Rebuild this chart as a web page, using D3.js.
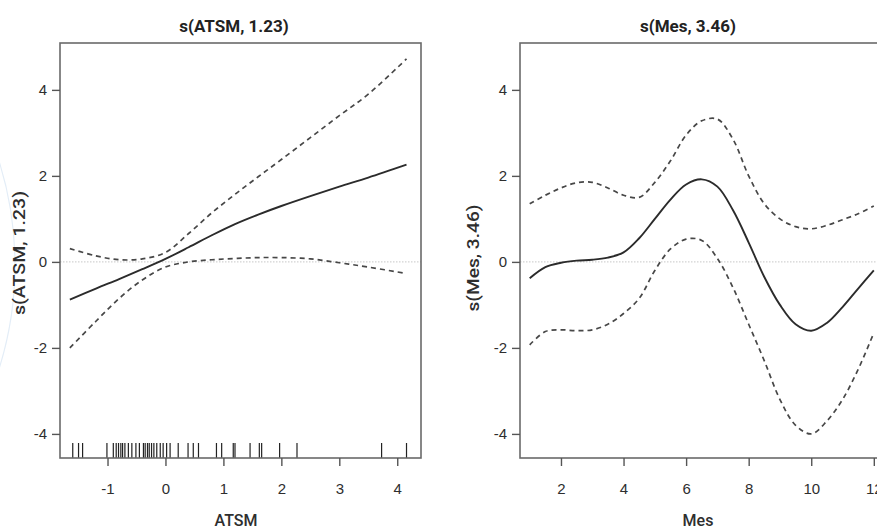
<!DOCTYPE html>
<html>
<head>
<meta charset="utf-8">
<script src="https://cdn.jsdelivr.net/npm/d3@7"></script>
<style>
  body { margin: 0; background: #fff; }
  svg { display: block; font-family: Roboto, "Liberation Sans", sans-serif; }
  .tick text { font-size: 15px; fill: #2e2e2e; font-weight: 500; }
  .tick line { stroke: #555; stroke-width: 1.4; }
</style>
</head>
<body>
<div id="chart"></div>
<script>
// Panel 1: s(ATSM, 1.23)
var atsmX     = [-1.65, -1.2, -0.8, -0.4, 0, 0.4, 0.8, 1.2, 1.6, 2.0, 2.5, 3.0, 3.5, 4.16];
var atsmFit   = [-0.88, -0.62, -0.40, -0.17, 0.07, 0.34, 0.62, 0.88, 1.10, 1.30, 1.53, 1.75, 1.96, 2.26];
var atsmUpper = [0.31, 0.14, 0.05, 0.07, 0.22, 0.66, 1.14, 1.57, 1.98, 2.38, 2.89, 3.40, 3.90, 4.72];
var atsmLower = [-2.0, -1.38, -0.85, -0.42, -0.12, 0.0, 0.05, 0.08, 0.10, 0.10, 0.07, -0.02, -0.12, -0.27];
var atsmRug   = [-1.60, -1.50, -1.43, -1.01, -0.90, -0.85, -0.81, -0.77, -0.74, -0.70, -0.64, -0.58,
                 -0.51, -0.45, -0.38, -0.35, -0.31, -0.28, -0.24, -0.20, -0.15, -0.09, -0.04, 0.02,
                 0.08, 0.22, 0.39, 0.48, 0.57, 0.88, 0.97, 1.17, 1.20, 1.46, 1.62, 1.66, 1.97, 2.27,
                 3.73, 4.16];
var atsmTicks = [-1, 0, 1, 2, 3, 4];

// Panel 2: s(Mes, 3.46)
var mesX     = [1, 1.5, 2, 2.5, 3, 3.5, 4, 4.5, 5, 5.5, 6, 6.5, 7, 7.5, 8, 8.5, 9, 9.5, 10, 10.5, 11, 11.5, 12];
var mesFit   = [-0.38, -0.12, -0.02, 0.03, 0.05, 0.10, 0.22, 0.55, 1.0, 1.45, 1.80, 1.92, 1.75, 1.20, 0.45,
                -0.35, -1.0, -1.45, -1.60, -1.42, -1.05, -0.62, -0.20];
var mesUpper = [1.35, 1.55, 1.72, 1.84, 1.85, 1.72, 1.55, 1.50, 1.85, 2.35, 2.95, 3.28, 3.32, 2.85, 2.0,
                1.35, 1.0, 0.82, 0.77, 0.85, 0.98, 1.12, 1.30];
var mesLower = [-1.93, -1.62, -1.58, -1.60, -1.58, -1.45, -1.20, -0.85, -0.20, 0.30, 0.53, 0.50, 0.08,
                -0.60, -1.45, -2.30, -3.20, -3.80, -4.0, -3.70, -3.20, -2.50, -1.65];
var mesTicks = [2, 4, 6, 8, 10, 12];

var yTicks = [-4, -2, 0, 2, 4];

var svgWidth = 877;
var svgHeight = 530;

var svg = d3.select('#chart')
  .append('svg')
  .attr('width', svgWidth)
  .attr('height', svgHeight);

// faint background arcs (from the slide the figure sits on)
svg.append('circle')
  .attr('cx', -330).attr('cy', 265).attr('r', 345)
  .attr('fill', 'none').attr('stroke', '#e3edf7').attr('stroke-width', 1.2);
svg.append('circle')
  .attr('cx', 1080).attr('cy', -180).attr('r', 230)
  .attr('fill', 'none').attr('stroke', '#e3edf7').attr('stroke-width', 1.2);

var plotTop = 43, plotBottom = 458;

var yScale = d3.scaleLinear()
  .domain([-4.56, 5.09])
  .range([plotBottom, plotTop]);

function drawPanel(opts) {
  var x = d3.scaleLinear().domain(opts.xDomain).range([opts.left, opts.right]);
  var g = svg.append('g');

  // zero reference line
  g.append('line')
    .attr('x1', opts.left).attr('x2', opts.right)
    .attr('y1', yScale(0)).attr('y2', yScale(0))
    .attr('stroke', '#c8c8c8').attr('stroke-width', 1)
    .attr('stroke-dasharray', '1.5,1.5');

  var line = d3.line()
    .x(function(d) { return x(d[0]); })
    .y(function(d) { return yScale(d[1]); })
    .curve(d3.curveCatmullRom.alpha(0.5));

  var fit = opts.xs.map(function(v, i) { return [v, opts.fit[i]]; });
  var up = opts.xs.map(function(v, i) { return [v, opts.upper[i]]; });
  var lo = opts.xs.map(function(v, i) { return [v, opts.lower[i]]; });

  [up, lo].forEach(function(pts) {
    g.append('path')
      .attr('d', line(pts))
      .attr('fill', 'none')
      .attr('stroke', '#474747')
      .attr('stroke-width', 1.7)
      .attr('stroke-dasharray', '5,4');
  });

  g.append('path')
    .attr('d', line(fit))
    .attr('fill', 'none')
    .attr('stroke', '#2b2b2b')
    .attr('stroke-width', 1.9);

  // rug
  if (opts.rug) {
    g.selectAll('.rug')
      .data(opts.rug)
      .enter()
      .append('line')
      .attr('class', 'rug')
      .attr('x1', function(d) { return x(d); })
      .attr('x2', function(d) { return x(d); })
      .attr('y1', plotBottom)
      .attr('y2', plotBottom - 15)
      .attr('stroke', '#222')
      .attr('stroke-width', 1.2);
  }

  // box
  g.append('rect')
    .attr('x', opts.left).attr('y', plotTop)
    .attr('width', opts.right - opts.left).attr('height', plotBottom - plotTop)
    .attr('fill', 'none').attr('stroke', '#6a6a6a').attr('stroke-width', 1.6);

  // axes
  var xAxis = g.append('g')
    .attr('transform', `translate(0, ${plotBottom})`)
    .call(d3.axisBottom(x).tickValues(opts.ticks).tickSize(8).tickPadding(17).tickFormat(d3.format('d')));
  xAxis.select('.domain').remove();

  var yAxis = g.append('g')
    .attr('transform', `translate(${opts.left}, 0)`)
    .call(d3.axisLeft(yScale).tickValues(yTicks).tickSize(8).tickPadding(5).tickFormat(d3.format('d')));
  yAxis.select('.domain').remove();

  // the minus sign in R output is a plain hyphen
  g.selectAll('.tick text').text(function(d) { return String(d); });

  // title
  g.append('text')
    .attr('x', opts.titleX).attr('y', 32)
    .attr('text-anchor', 'middle')
    .attr('font-size', 17).attr('font-weight', 'bold').attr('fill', '#222')
    .text(opts.title);

  // x label
  g.append('text')
    .attr('x', opts.xLabelX).attr('y', 526)
    .attr('text-anchor', 'middle')
    .attr('font-size', 16).attr('font-weight', 500).attr('fill', '#2e2e2e')
    .text(opts.xLabel);

  // y label
  g.append('text')
    .attr('transform', `translate(${opts.yLabelX}, ${opts.yLabelY}) rotate(-90)`)
    .attr('text-anchor', 'middle')
    .attr('font-size', 16).attr('font-weight', 500).attr('fill', '#2e2e2e')
    .attr('textLength', opts.yLabelLen)
    .attr('lengthAdjust', 'spacingAndGlyphs')
    .text(opts.title);
}

drawPanel({
  left: 60, right: 421, xDomain: [-1.82, 4.41],
  xs: atsmX, fit: atsmFit, upper: atsmUpper, lower: atsmLower,
  rug: atsmRug, ticks: atsmTicks,
  title: 's(ATSM, 1.23)', titleX: 234,
  xLabel: 'ATSM', xLabelX: 236,
  yLabelX: 25, yLabelY: 253, yLabelLen: 124
});

drawPanel({
  left: 520, right: 881, xDomain: [0.69, 12.23],
  xs: mesX, fit: mesFit, upper: mesUpper, lower: mesLower,
  rug: null, ticks: mesTicks,
  title: 's(Mes, 3.46)', titleX: 688,
  xLabel: 'Mes', xLabelX: 698,
  yLabelX: 479, yLabelY: 258, yLabelLen: 107
});
</script>
</body>
</html>
